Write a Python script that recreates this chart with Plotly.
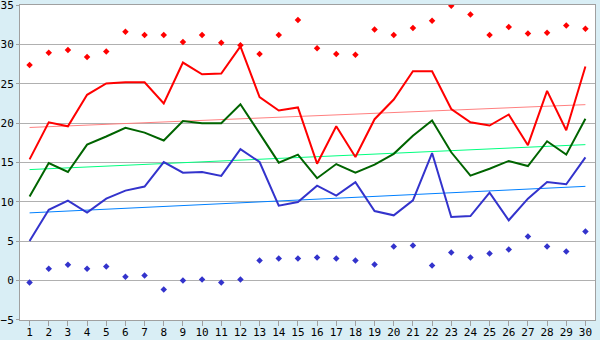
import plotly.graph_objects as go

days = list(range(1, 31))
red_max = [27.4, 28.95, 29.3, 28.4, 29.1, 31.6, 31.2, 31.2, 30.3, 31.2,
           30.2, 29.9, 28.8, 31.2, 33.1, 29.5, 28.8, 28.7, 31.9, 31.2,
           32.1, 33.0, 34.9, 33.8, 31.2, 32.2, 31.4, 31.5, 32.4, 32.0]
red_line = [15.4, 20.1, 19.6, 23.6, 25.05, 25.2, 25.2, 22.5, 27.7, 26.2,
            26.3, 29.75, 23.3, 21.6, 22.0, 14.85, 19.6, 15.7, 20.5, 23.0,
            26.6, 26.6, 21.8, 20.1, 19.7, 21.1, 17.2, 24.1, 19.1, 27.2]
green_line = [10.67, 14.94, 13.8, 17.27, 18.3, 19.4, 18.8, 17.8, 20.27, 20.0,
              20.0, 22.4, 18.7, 14.98, 16.0, 13.0, 14.8, 13.7, 14.73, 16.1,
              18.4, 20.35, 16.3, 13.33, 14.2, 15.2, 14.55, 17.7, 16.0, 20.57]
blue_line = [5.03, 9.0, 10.16, 8.63, 10.41, 11.43, 11.94, 15.06, 13.7, 13.8,
             13.3, 16.7, 15.06, 9.52, 9.98, 12.06, 10.8, 12.5, 8.84, 8.29,
             10.2, 16.2, 8.08, 8.2, 11.17, 7.66, 10.41, 12.52, 12.23, 15.66]
blue_min = [-0.25, 1.5, 2.0, 1.5, 1.8, 0.5, 0.63, -1.14, 0.0, 0.13,
            -0.25, 0.13, 2.54, 2.79, 2.79, 2.92, 2.79, 2.54, 2.03, 4.32,
            4.44, 1.9, 3.56, 2.92, 3.43, 3.94, 5.59, 4.32, 3.68, 6.22]
trend_x = [1, 30]
red_trend = [19.45, 22.35]
green_trend = [14.1, 17.27]
blue_trend = [8.6, 11.97]
y_ticks = [-5, 0, 5, 10, 15, 20, 25, 30, 35]

fig = go.Figure()
fig.add_trace(go.Scatter(x=trend_x, y=red_trend, mode="lines",
                         line=dict(color="#FF8080", width=1)))
fig.add_trace(go.Scatter(x=trend_x, y=green_trend, mode="lines",
                         line=dict(color="#00FF7F", width=1)))
fig.add_trace(go.Scatter(x=trend_x, y=blue_trend, mode="lines",
                         line=dict(color="#0080FF", width=1)))
fig.add_trace(go.Scatter(x=days, y=red_line, mode="lines",
                         line=dict(color="#FF0000", width=2)))
fig.add_trace(go.Scatter(x=days, y=green_line, mode="lines",
                         line=dict(color="#006400", width=2)))
fig.add_trace(go.Scatter(x=days, y=blue_line, mode="lines",
                         line=dict(color="#3333CC", width=2)))
fig.add_trace(go.Scatter(x=days, y=red_max, mode="markers",
                         marker=dict(color="#FF0000", symbol="diamond", size=5)))
fig.add_trace(go.Scatter(x=days, y=blue_min, mode="markers",
                         marker=dict(color="#3333CC", symbol="diamond", size=5)))

fig.update_layout(
    width=600, height=340,
    margin=dict(l=20, r=5, t=5, b=20),
    paper_bgcolor="#D9EEF5",
    plot_bgcolor="#FFFFFF",
    showlegend=False,
    font=dict(family="DejaVu Sans Mono", size=11, color="#000000"),
)
fig.update_xaxes(
    range=[0.5, 30.5], tickvals=days, ticktext=[str(d) for d in days],
    showgrid=False, zeroline=False,
    showline=True, linecolor="#A0A0A0", linewidth=1, mirror=True,
    ticks="outside", ticklen=5, tickcolor="#A0A0A0",
    tickfont=dict(size=11), automargin=False, ticklabeloverflow="allow",
    ticklabelstandoff=-3,
)
fig.update_yaxes(
    range=[-5.01, 35.01], tickvals=y_ticks,
    showgrid=True, gridcolor="#B0B0B0", gridwidth=1, zeroline=False,
    showline=True, linecolor="#A0A0A0", linewidth=1, mirror=True,
    ticks="outside", ticklen=3, tickcolor="#A0A0A0",
    tickfont=dict(size=11), ticklabeloverflow="allow", automargin=False,
)

fig.write_html("out.html")
